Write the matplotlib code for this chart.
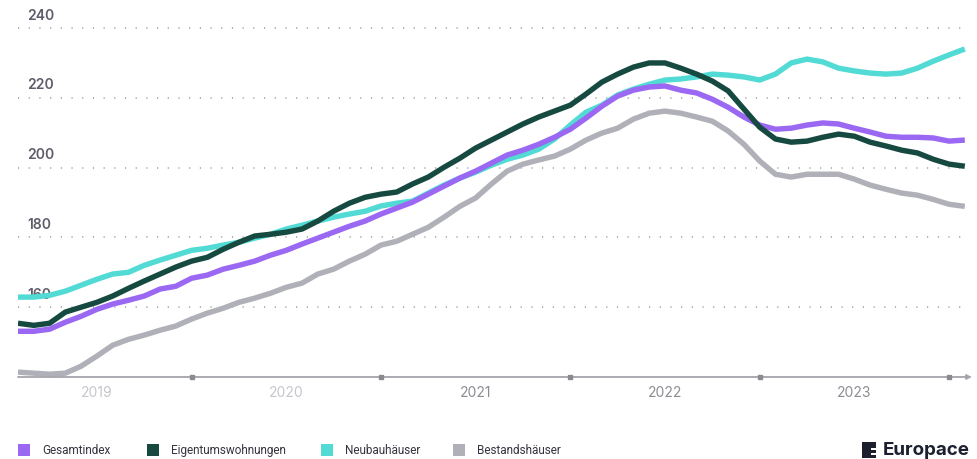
import numpy as np
import pandas as pd
import matplotlib.pyplot as plt
from matplotlib.patches import Rectangle

# Europace Hauspreisindex, monatlich Feb 2019 - Feb 2024
months = pd.date_range("2019-02-01", periods=61, freq="MS")

gesamtindex = [
    153.1, 153.1, 153.7, 155.7, 157.4, 159.4, 160.9, 162.0, 163.2, 165.2,
    166.0, 168.3, 169.2, 170.9, 172.0, 173.2, 174.9, 176.3, 178.1, 179.8,
    181.5, 183.2, 184.7, 186.7, 188.4, 190.1, 192.4, 194.7, 197.0, 199.0,
    201.3, 203.6, 205.0, 206.7, 208.7, 211.0, 214.2, 217.6, 220.5, 222.2,
    223.1, 223.4, 222.2, 221.4, 219.6, 217.3, 214.5, 212.2, 211.0, 211.3,
    212.2, 212.8, 212.5, 211.3, 210.2, 209.0, 208.7, 208.7, 208.5, 207.6,
    207.9,
]
eigentumswohnungen = [
    155.4, 154.8, 155.4, 158.6, 160.0, 161.4, 163.2, 165.4, 167.5, 169.5,
    171.5, 173.2, 174.3, 176.6, 178.6, 180.4, 180.9, 181.5, 182.4, 184.7,
    187.5, 189.8, 191.5, 192.4, 193.0, 195.3, 197.3, 200.1, 202.7, 205.6,
    207.9, 210.2, 212.5, 214.5, 216.2, 217.9, 221.1, 224.5, 226.8, 228.8,
    230.0, 230.0, 228.5, 226.8, 224.8, 222.0, 216.8, 211.6, 208.2, 207.3,
    207.6, 208.7, 209.6, 209.0, 207.3, 206.2, 205.0, 204.2, 202.4, 201.0,
    200.4,
]
neubauhaeuser = [
    162.9, 162.9, 163.4, 164.6, 166.3, 168.0, 169.5, 170.0, 172.0, 173.5,
    174.9, 176.3, 176.9, 177.8, 178.6, 179.8, 180.9, 182.4, 183.5, 184.7,
    185.8, 186.7, 187.5, 189.0, 189.8, 190.4, 192.7, 195.0, 197.0, 198.7,
    200.7, 202.4, 203.6, 205.3, 208.2, 212.2, 215.9, 217.9, 220.8, 222.5,
    223.9, 225.1, 225.4, 226.0, 226.8, 226.5, 226.0, 225.1, 226.8, 230.0,
    231.1, 230.3, 228.5, 227.7, 227.1, 226.8, 227.1, 228.5, 230.5, 232.3,
    234.0,
]
bestandshaeuser = [
    141.4, 141.1, 140.8, 141.1, 143.1, 146.0, 149.1, 150.8, 152.0, 153.4,
    154.6, 156.6, 158.3, 159.7, 161.4, 162.6, 164.0, 165.7, 166.9, 169.5,
    170.9, 173.2, 175.2, 177.8, 178.9, 180.9, 182.9, 185.8, 188.9, 191.3,
    195.3, 199.0, 201.0, 202.2, 203.3, 205.3, 207.9, 209.9, 211.3, 213.9,
    215.6, 216.2, 215.6, 214.5, 213.3, 210.5, 206.7, 201.9, 198.1, 197.3,
    198.1, 198.1, 198.1, 196.7, 195.0, 193.8, 192.7, 192.1, 190.9, 189.5,
    188.9,
]

names = ["Gesamtindex", "Eigentumswohnungen", "Neubauhäuser", "Bestandshäuser"]
series = [gesamtindex, eigentumswohnungen, neubauhaeuser, bestandshaeuser]
colors = ["#9a68f2", "#164a40", "#52dad5", "#b0b0b8"]
zorders = [4, 5, 3, 2]
y_ticks = [160, 180, 200, 220, 240]

W, H = 978, 460
fig = plt.figure(figsize=(W / 100, H / 100), dpi=100)
ax = fig.add_axes([18 / W, 1 - 378 / H, 0.97617, 0.79652])

x = np.arange(len(months))

for v in y_ticks:
    ax.hlines(v, 0, x[-1], colors="#b0b0b4", linewidth=1.4,
              linestyles=(0, (0.6, 4.9)), zorder=1)
    ax.annotate(str(v), xy=(0, v), xytext=(6.5, 6.8), textcoords="offset points",
                va="baseline", ha="left", fontsize=10, fontweight="semibold",
                color="#5c5c6a", family="Inter")

for vals, c, z in zip(series, colors, zorders):
    ax.plot(x, vals, color=c, linewidth=3.9, solid_capstyle="butt",
            solid_joinstyle="round", zorder=z)

# x-Achse mit Pfeil
ax.annotate("", xy=(60.45, 140), xytext=(0, 140),
            arrowprops=dict(arrowstyle="-|>", color="#a4a4aa", lw=1.3,
                            mutation_scale=7, shrinkA=0, shrinkB=0),
            annotation_clip=False)
tick_idx = [i for i, m in enumerate(months) if m.month == 1]
ax.plot(tick_idx, [140] * len(tick_idx), "s", color="#8a8a92", ms=3.5,
        clip_on=False, zorder=6)
label_idx = [i for i, m in enumerate(months) if m.month == 7]
for i in label_idx:
    yr = months[i].year
    ax.annotate(str(yr), xy=(i, 140), xytext=(0, -14), textcoords="offset points",
                ha="center", va="baseline", fontsize=10, family="Inter",
                color="#c6c6cc" if yr < 2021 else "#8c8c94")

ax.set_xlim(0, 60.5)
ax.set_ylim(140, 245)
ax.axis("off")

# Legende
leg_x = [18, 147, 321, 453]
for px, name, c in zip(leg_x, names, colors):
    fig.patches.append(Rectangle((px / W, 1 - 457 / H), 12 / W, 12 / H,
                                 transform=fig.transFigure, facecolor=c,
                                 edgecolor="none"))
    fig.text((px + 24) / W, 1 - 451 / H, name, fontsize=8.5, family="Roboto",
             color="#34343e", va="center", ha="left")

# Logo
logo_col = "#1b1f2e"
fig.patches.append(Rectangle((862 / W, 1 - 459 / H), 14 / W, 16 / H,
                             transform=fig.transFigure, facecolor=logo_col,
                             edgecolor="none"))
for yy in (449, 454):
    fig.patches.append(Rectangle((871 / W, 1 - (yy + 1.5) / H), 6 / W, 1.8 / H,
                                 transform=fig.transFigure, facecolor="white",
                                 edgecolor="none"))
fig.text(883 / W, 1 - 451 / H, "Europace", fontsize=13.5, fontweight="bold",
         family="Inter", color=logo_col, va="center", ha="left")

fig.savefig("out.png", dpi=100, facecolor="white")
